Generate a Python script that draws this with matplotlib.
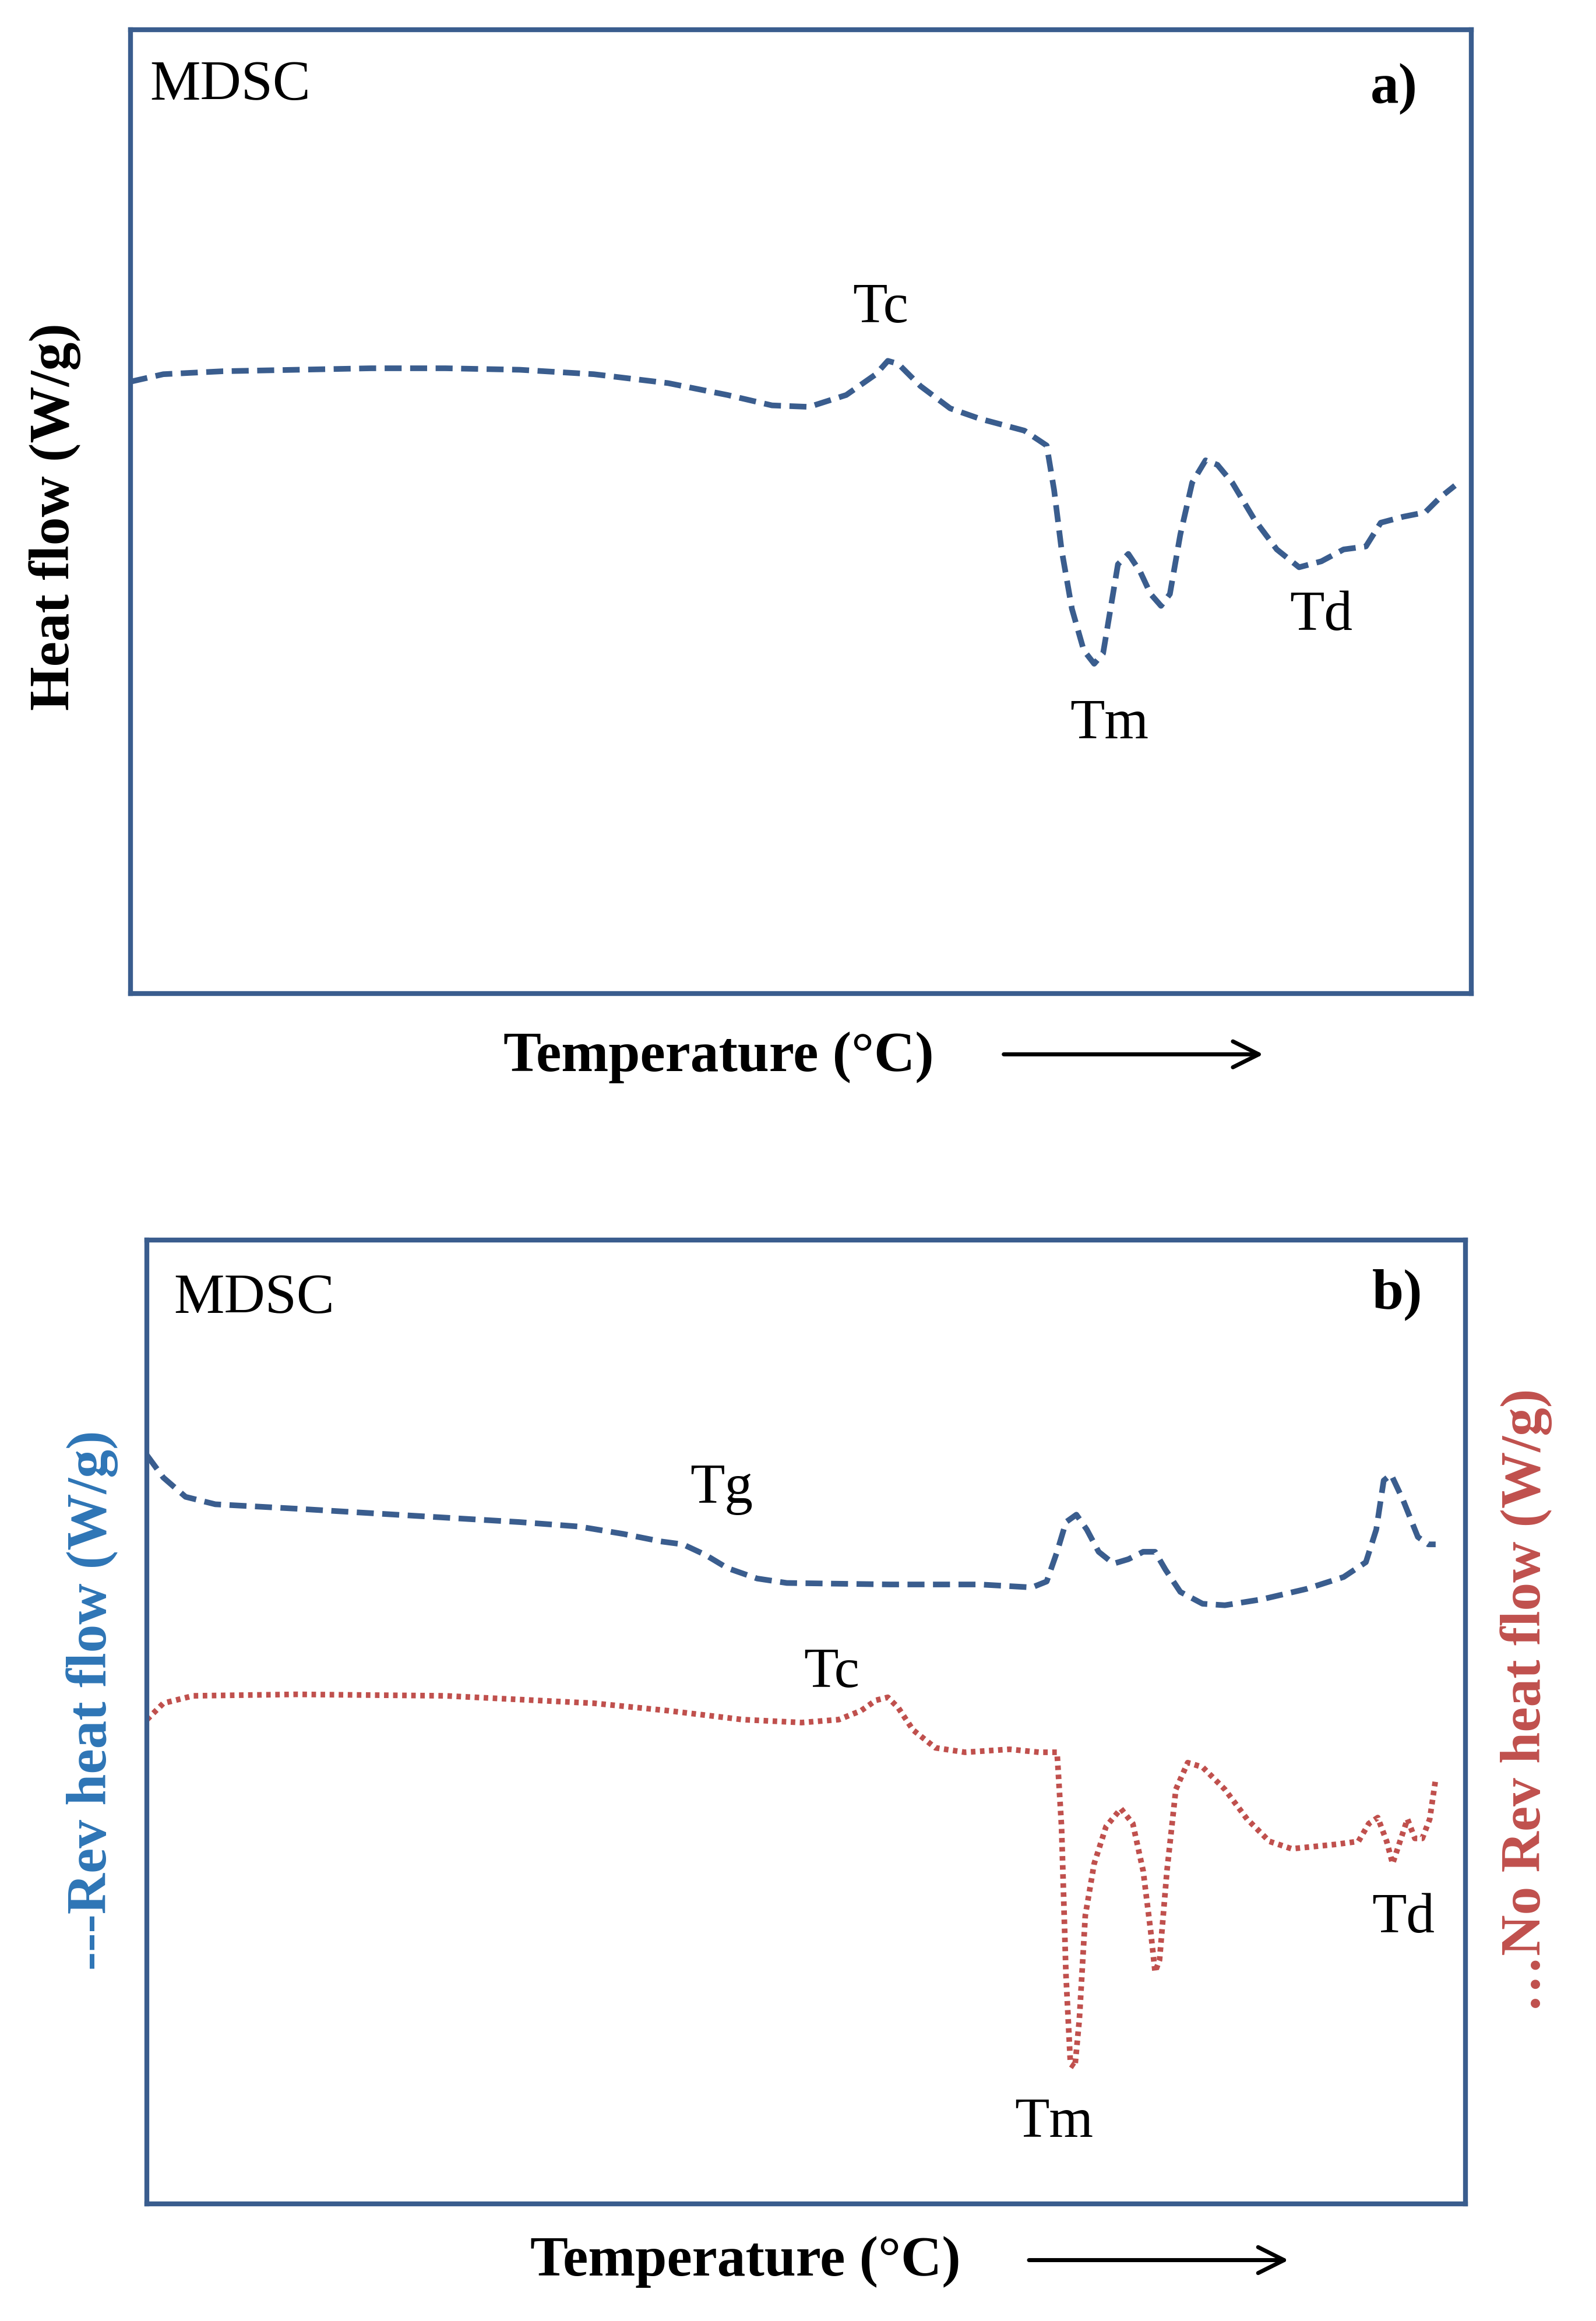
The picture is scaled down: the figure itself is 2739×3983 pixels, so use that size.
import matplotlib.pyplot as plt

plt.rcParams['font.family'] = ['Liberation Serif', 'DejaVu Serif']

W, H = 1075, 1563

# panel a: total heat flow (x = temperature, y = signal, image units)
a_x = [88,110,150,200,250,300,350,400,450,490,520,545,570,590,598,605,620,640,660,690,705,710,715,722,730,737,743,748,753,760,768,775,782,788,795,803,812,820,830,845,860,875,890,905,920,930,945,960,970,980]
a_y = [257,252,250,249,248,248,249,252,258,266,273,274,266,252,243,245,260,275,282,290,300,330,370,410,438,447,440,410,380,373,385,400,408,400,360,325,310,313,325,350,370,382,378,370,368,352,348,345,335,327]

# panel b: reversing (blue) and non-reversing (red)
rev_x = [99,110,125,145,200,250,300,350,390,420,445,460,475,490,510,530,600,660,695,705,712,718,725,732,740,750,760,770,778,785,795,810,825,850,880,905,920,927,932,937,945,955,962,967]
rev_y = [980,995,1008,1013,1016,1019,1022,1025,1028,1033,1038,1040,1047,1056,1063,1066,1067,1067,1069,1065,1045,1025,1020,1030,1045,1053,1050,1045,1045,1057,1072,1080,1081,1077,1070,1062,1052,1030,997,993,1010,1035,1040,1040]
nrev_x = [99,110,130,200,300,400,450,500,540,565,580,590,598,605,615,630,650,680,700,712,715,718,721,724,727,731,737,745,755,763,770,775,778,781,786,792,800,810,825,840,855,870,900,915,922,928,934,938,943,948,953,958,963,967]
nrev_y = [1158,1147,1142,1141,1142,1147,1152,1158,1160,1158,1152,1145,1143,1150,1165,1177,1180,1178,1180,1180,1230,1330,1390,1392,1360,1290,1255,1230,1218,1228,1260,1300,1328,1320,1260,1205,1187,1190,1205,1225,1240,1245,1242,1240,1228,1224,1240,1255,1240,1225,1238,1238,1225,1198]

navy = '#3a5d8e'
red = '#c0504d'
blue = '#2e75b6'
fs = 70

fig = plt.figure(figsize=(27.39, 39.83), dpi=100)

def add_box(x0, y0, x1, y1):
    ax = fig.add_axes([x0 / W, 1 - y1 / H, (x1 - x0) / W, (y1 - y0) / H])
    ax.set_xlim(x0, x1)
    ax.set_ylim(y1, y0)
    ax.set_xticks([])
    ax.set_yticks([])
    for s in ax.spines.values():
        s.set_color(navy)
        s.set_linewidth(6)
    return ax

def t(x, y, s, **kw):
    fig.text(x / W, 1 - y / H, s, fontsize=fs, va='center', **kw)

def arrow(x0, x1, y):
    fig.add_artist(plt.Annotation('', xy=(x1 / W, 1 - y / H), xytext=(x0 / W, 1 - y / H),
                                  xycoords='figure fraction',
                                  arrowprops=dict(arrowstyle='->', lw=5, mutation_scale=80, color='black')))

ax1 = add_box(88, 20, 991, 669)
ax1.plot(a_x, a_y, color=navy, lw=7, ls=(0, (3, 1.5)))
t(101, 58, 'MDSC', ha='left')
t(955, 60, 'a)', ha='right', fontweight='bold')
t(593, 208, 'Tc', ha='center')
t(747, 488, 'Tm', ha='center')
t(890, 415, 'Td', ha='center')
t(37, 348, 'Heat flow (W/g)', ha='center', rotation=90, fontweight='bold')
t(484, 712, 'Temperature (°C)', ha='center', fontweight='bold')
arrow(675, 852, 710)

ax2 = add_box(99, 835, 987, 1484)
ax2.plot(rev_x, rev_y, color=navy, lw=7, ls=(0, (3, 1.5)))
ax2.plot(nrev_x, nrev_y, color=red, lw=7, ls=(0, (0.8, 0.8)))
t(117, 875, 'MDSC', ha='left')
t(958, 872, 'b)', ha='right', fontweight='bold')
t(486, 1003, 'Tg', ha='center')
t(560, 1127, 'Tc', ha='center')
t(710, 1430, 'Tm', ha='center')
t(945, 1292, 'Td', ha='center')
t(62, 1145, '---Rev heat flow (W/g)', ha='center', rotation=90, fontweight='bold', color=blue)
t(1028, 1145, '…No Rev heat flow (W/g)', ha='center', rotation=90, fontweight='bold', color=red)
t(502, 1523, 'Temperature (°C)', ha='center', fontweight='bold')
arrow(692, 869, 1522)

fig.savefig('out.png', dpi=100)
